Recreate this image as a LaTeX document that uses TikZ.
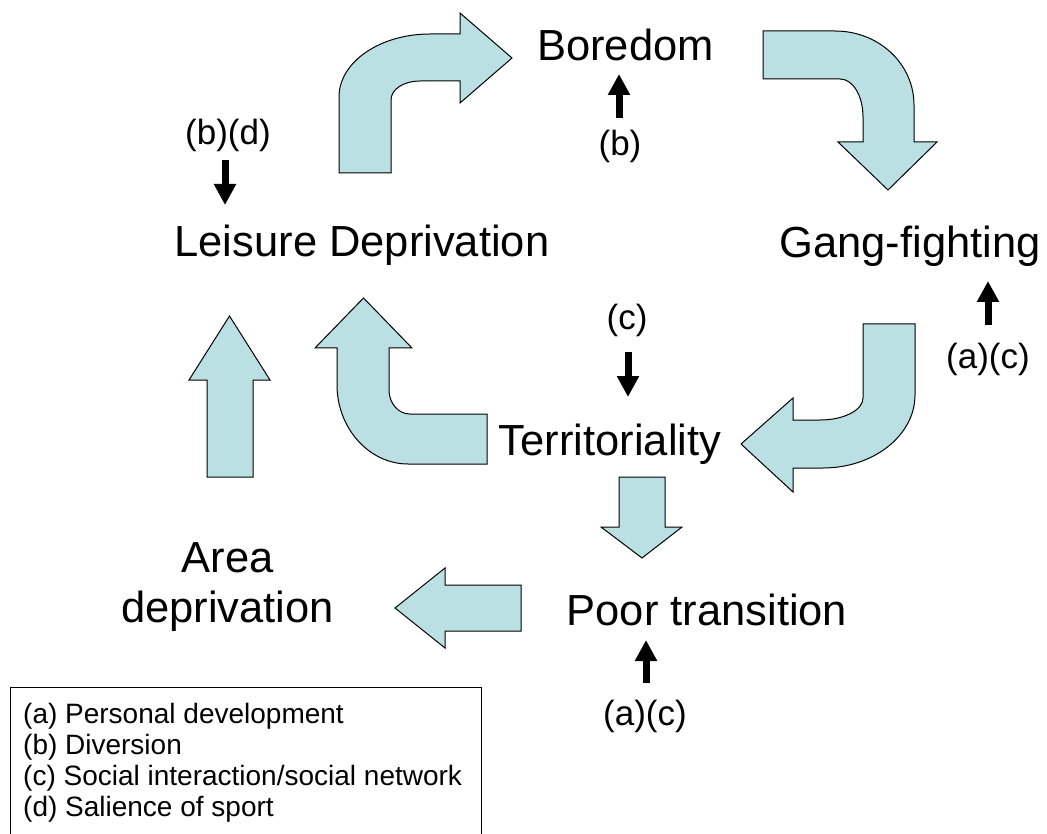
\documentclass[tikz,border=0pt]{standalone}
\usepackage{fontspec}
\setmainfont{Liberation Sans}
\usetikzlibrary{arrows.meta}
\definecolor{arrowfill}{RGB}{186,224,227}
\begin{document}
\begin{tikzpicture}[x=1pt,y=-1pt,
  lbl/.style={inner sep=0pt, anchor=base, font=\fontsize{43.5pt}{50pt}\selectfont},
  sml/.style={inner sep=0pt, anchor=base, font=\fontsize{35pt}{40pt}\selectfont},
  legtext/.style={inner sep=0pt, anchor=base west, font=\fontsize{28pt}{31pt}\selectfont},
  blk/.style={fill=arrowfill, draw=black, line width=1pt, line join=miter},
  tick/.style={line width=7pt, -{Triangle[length=21pt,width=21pt]}}]
\useasboundingbox (0,0) rectangle (1047,834);
\clip (0,0) rectangle (1047,834);

% block arrows of the cycle
\draw[blk] (339,173) -- (339,97) .. controls (339,62) and (380,34) .. (430,34)
  -- (460,34) -- (460,13) -- (512,58) -- (460,103) -- (460,81) -- (420,81)
  .. controls (404,81) and (391,89) .. (391,100) -- (391,173) -- cycle;
\draw[blk] (763,31) -- (835,31) .. controls (879,31) and (914,64) .. (914,105)
  -- (914,142) -- (937,142) -- (888,190) -- (838,142) -- (863,142) -- (863,117)
  .. controls (863,96) and (853,79) .. (840,79) -- (763,79) -- cycle;
\draw[blk] (863,324) -- (915,324) -- (915,395) .. controls (915,435) and (874,468) .. (823,468)
  -- (793,468) -- (793,492) -- (741,444) -- (793,398) -- (793,420) -- (820,420)
  .. controls (844,420) and (863,410) .. (863,398) -- cycle;
\draw[blk] (487,414) -- (487,464) -- (408,464) .. controls (369,464) and (337,428) .. (337,385)
  -- (337,348) -- (315,348) -- (363.5,298) -- (412,348) -- (389,348) -- (389,390)
  .. controls (389,403) and (398,414) .. (410,414) -- cycle;
\draw[blk] (207,477) -- (207,380) -- (189,380) -- (229.5,316) -- (270,380) -- (253,380) -- (253,477) -- cycle;
\draw[blk] (619,477) -- (665,477) -- (665,527) -- (682,527) -- (642,558) -- (601,527) -- (619,527) -- cycle;
\draw[blk] (521,585) -- (521,631) -- (445,631) -- (445,648) -- (395,608) -- (445,568) -- (445,585) -- cycle;

% concepts
\node[lbl] (bored) at (625.5,61) {Boredom};
\node[lbl] (gang) at (910,258) {Gang-fighting};
\node[lbl] (leis) at (362,257) {Leisure Deprivation};
\node[lbl] (terr) at (610,455) {Territoriality};
\node[lbl] (poor) at (707,625) {Poor transition};
\node[lbl] (area) at (227.5,572) {Area};
\node[lbl] (areab) at (227.5,622) {deprivation};

% sport factor keys
\node[sml] (kb) at (620,156) {(b)};
\node[sml] (kbd) at (228,145) {(b)(d)};
\node[sml] (kc) at (627,330) {(c)};
\node[sml] (kacg) at (988,368) {(a)(c)};
\node[sml] (kacp) at (645,725) {(a)(c)};

% short influence arrows
\coordinate (kbS) at (619,118);  \coordinate (boredT) at (619,74);
\coordinate (kbdS) at (225,160); \coordinate (leisT) at (225,205);
\coordinate (kcS) at (628,352);  \coordinate (terrT) at (628,397);
\coordinate (kacgS) at (988,325); \coordinate (gangT) at (988,281);
\coordinate (kacpS) at (646,683); \coordinate (poorT) at (646,640);
\draw[tick] (kbS) -- (boredT);
\draw[tick] (kbdS) -- (leisT);
\draw[tick] (kcS) -- (terrT);
\draw[tick] (kacgS) -- (gangT);
\draw[tick] (kacpS) -- (poorT);

% legend
\draw[line width=1pt] (10,860) -- (10,687) -- (481,687) -- (481,860);
\node[legtext] (leg1) at (23,723) {(a) Personal development};
\node[legtext] (leg2) at (23,754) {(b) Diversion};
\node[legtext] (leg3) at (23,785) {(c) Social interaction/social network};
\node[legtext] (leg4) at (23,816) {(d) Salience of sport};
\end{tikzpicture}
\end{document}
